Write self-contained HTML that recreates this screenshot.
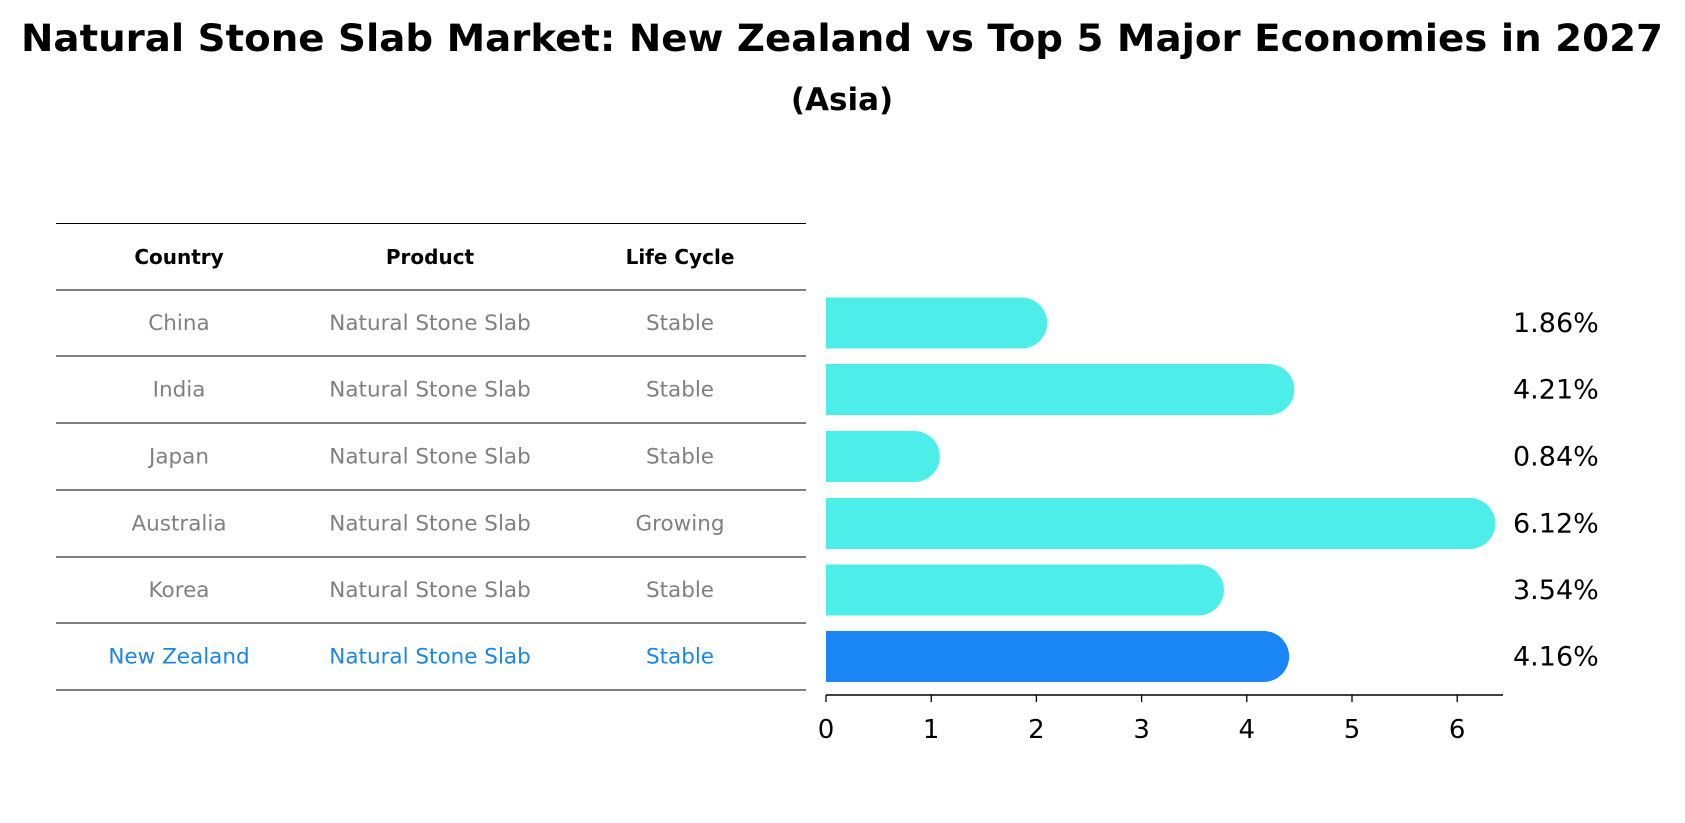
<!DOCTYPE html>
<html><head><meta charset="utf-8"><style>
body{margin:0;background:#fff;}
svg{display:block;font-family:"DejaVu Sans","Liberation Sans",sans-serif;}
</style></head><body>
<svg id="chart" width="1685" height="823" viewBox="0 0 1685 823" xmlns="http://www.w3.org/2000/svg">
<text x="842" y="51" text-anchor="middle" font-size="37" font-weight="bold" textLength="1642" lengthAdjust="spacingAndGlyphs">Natural Stone Slab Market: New Zealand vs Top 5 Major Economies in 2027</text>
<text x="842" y="110" text-anchor="middle" font-size="31" font-weight="bold">(Asia)</text>
<g id="table"></g>
<g id="bars"></g>
</svg>
<script>
const countries = ["China","India","Japan","Australia","Korea","New Zealand"];
const products = ["Natural Stone Slab","Natural Stone Slab","Natural Stone Slab","Natural Stone Slab","Natural Stone Slab","Natural Stone Slab"];
const lifeCycles = ["Stable","Stable","Stable","Growing","Stable","Stable"];
const values = [1.86,4.21,0.84,6.12,3.54,4.16];
const ticks = [0,1,2,3,4,5,6];
const NS="http://www.w3.org/2000/svg";
function mk(tag,attrs,parent){const e=document.createElementNS(NS,tag);for(const k in attrs)e.setAttribute(k,attrs[k]);parent.appendChild(e);return e;}
const tbl=document.getElementById('table'), bars=document.getElementById('bars');
const lineYs=[223.5,290,356,423,490,557,623,690];
const colX=[179,430,680];
const rowY=i=>(lineYs[i+1]+lineYs[i+2])/2;
const xS=v=>826+v*105.2;
lineYs.forEach((y,i)=>{const l=mk('line',{x1:56,x2:806,y1:y,y2:y,stroke:'#000','stroke-width':1},tbl);

});
["Country","Product","Life Cycle"].forEach((h,j)=>{const t=mk('text',{x:colX[j],y:(lineYs[0]+lineYs[1])/2+7,'text-anchor':'middle','font-size':20,'font-weight':'bold'},tbl);t.textContent=h;

});
countries.forEach((c,i)=>{
 const col=i===countries.length-1?'#1a86e8':'#808080';
 [c,products[i],lifeCycles[i]].forEach((s,j)=>{const t=mk('text',{x:colX[j],y:rowY(i)+7,'text-anchor':'middle','font-size':21.5,fill:col},tbl);t.textContent=s;
 
 });
 const fill=i===countries.length-1?'#1a86f5':'#4deeea';
 const g=mk('g',{},bars);
 
 
 const h=51,y=rowY(i);
 mk('rect',{x:826,y:y-h/2,width:xS(values[i])-826,height:h,fill:fill},g);
 mk('circle',{cx:xS(values[i]),cy:y,r:h/2,fill:fill},g);
 const t=mk('text',{x:1513,y:y+9,'font-size':27},bars);t.textContent=values[i].toFixed(2)+'%';
 
 
});
const ax=mk('line',{x1:826,x2:1503,y1:695,y2:695,stroke:'#000','stroke-width':1.5},bars);


ticks.forEach(v=>{mk('line',{x1:xS(v),x2:xS(v),y1:695,y2:702,stroke:'#000','stroke-width':1.3},bars);
 const t=mk('text',{x:xS(v),y:738,'text-anchor':'middle','font-size':26},bars);t.textContent=v;
 
 });
</script>
</body></html>
